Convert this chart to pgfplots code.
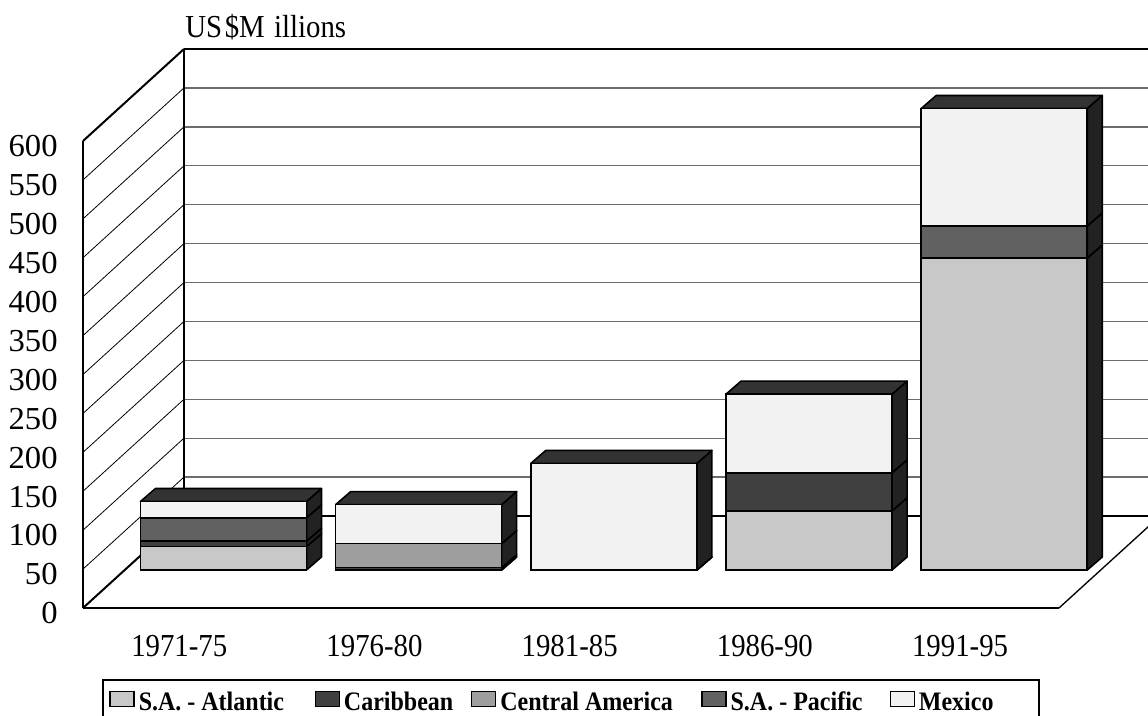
\documentclass[border=0pt]{standalone}
\usepackage{fontspec}
\setmainfont[FakeStretch=0.9]{Liberation Serif}
\newfontfamily\widefont[FakeStretch=1.02]{Liberation Serif}
\usepackage{pgfplots}
\usepackage{pgfplotstable}
\pgfplotsset{compat=1.18}

\definecolor{atl}{HTML}{C8C8C8}
\definecolor{car}{HTML}{404040}
\definecolor{cam}{HTML}{9E9E9E}
\definecolor{pac}{HTML}{616161}
\definecolor{mex}{HTML}{F2F2F2}
\definecolor{barside}{HTML}{222222}
\definecolor{bartop}{HTML}{333333}

% US$ millions by period
\pgfplotstableread{
cat atl car ca pac mex
0   30  7   0  30  21
1   0   3   31 0   50
2   0   0   0  0   137
3   76  49  0  0   101
4   401 0   0  41  151
}\data

% 1 px of the reference = 0.75pt
\pgfplotsset{
  geom/.style={scale only axis,width=732pt,height=350.25pt,anchor=south west,
    xmin=-0.5,xmax=4.5,ymin=0,ymax=600,clip=false},
  swatch/.style={legend image code/.code={\draw[##1,line width=1pt] (0pt,-5.6pt) rectangle (18pt,5.6pt);}},
}
\def\halfw{0.4252}
\def\depx{0.0768}
\def\depy{16.7}

% right side and top of one stacked bar, from the table
\newcommand\depthfaces[1]{%
  \pgfmathsetmacro\xa{#1+\halfw}%
  \pgfmathsetmacro\xb{\xa+\depx}%
  \pgfmathsetmacro\xl{#1-\halfw}%
  \pgfmathsetmacro\xm{\xl+\depx}%
  \def\cum{0}%
  \pgfplotsforeachungrouped \col in {atl,car,ca,pac,mex}{%
    \pgfplotstablegetelem{#1}{\col}\of\data
    \pgfmathsetmacro\cumnew{\cum+\pgfplotsretval}%
    \pgfmathsetmacro\loback{\cum+\depy}%
    \pgfmathsetmacro\hiback{\cumnew+\depy}%
    \addplot[fill=barside,draw=black,line width=1.2pt,line join=round] coordinates {(\xa,\cum)(\xb,\loback)(\xb,\hiback)(\xa,\cumnew)} --cycle;
    \let\cum\cumnew
  }%
  \addplot[fill=bartop,draw=black,line width=1.2pt,line join=round] coordinates {(\xl,\cum)(\xa,\cum)(\xb,\hiback)(\xm,\hiback)} --cycle;
}

\begin{document}
\begin{tikzpicture}
\useasboundingbox (0,0) rectangle (861pt,536.25pt);

% back wall
\begin{axis}[geom,at={(138pt,149.25pt)},
    axis x line*=bottom,axis y line*=left,axis line style={-,black,line width=1.5pt},
    xtick=\empty,ytick={50,100,...,550},yticklabel=\empty,major tick length=0pt,
    ymajorgrids,grid style={gray!85!black,line width=1pt}]
  \addplot[black,line width=1.5pt] coordinates {(-0.5,600)(4.5,600)};
\end{axis}

% front axis, side wall and floor
\begin{axis}[geom,at={(62.25pt,80.25pt)},
    axis x line*=bottom,axis y line*=left,axis line style={-,black,line width=1.5pt},
    major tick length=0pt,
    xtick={0,1,2,3,4},xticklabels={1971-75,1976-80,1981-85,1986-90,1991-95},
    ytick={0,50,...,600},
    /pgf/number format/assume math mode=true,
    tick label style={font=\fontsize{24}{24}\selectfont},
    xticklabel style={yshift=-17pt,xshift=-1pt},
    yticklabel style={anchor=east,xshift=-15.5pt,yshift=-4pt,font=\fontsize{24}{24}\widefont}]
  \pgfplotsinvokeforeach{50,100,...,550}{
    \pgfmathsetmacro\yb{#1+118.2}
    \addplot[black,line width=0.6pt] coordinates {(-0.5,#1)(0.0174,\yb)};
  }
  \addplot[black,line width=1.5pt] coordinates {(-0.5,0)(0.0174,118.2)};
  \addplot[black,line width=1.5pt] coordinates {(-0.5,600)(0.0174,718.2)};
  \addplot[black,line width=1pt] coordinates {(4.5,0)(5.0174,118.2)};
\end{axis}

% sides and tops of the bars
\begin{axis}[geom,at={(94.4pt,108.75pt)},hide axis]
  \pgfplotsinvokeforeach{0,...,4}{\depthfaces{#1}}
\end{axis}

% front faces of the bars
\begin{axis}[geom,at={(94.4pt,108.75pt)},hide axis,
    ybar stacked,bar width=124.5pt,
    legend style={at={(-0.0245,-0.2340)},anchor=north west,draw=black,line width=1.2pt,
      legend columns=5,inner xsep=5pt,inner ysep=8pt,
      font=\fontsize{20}{24}\selectfont\bfseries,
      nodes={inner sep=0pt},
      /tikz/every odd column/.append style={column sep=3pt}},
    legend cell align=left]
  \addplot[fill=atl,draw=black,line width=1.2pt,swatch] table[x=cat,y=atl] {\data};
  \addplot[fill=car,draw=black,line width=1.2pt,swatch] table[x=cat,y=car] {\data};
  \addplot[fill=cam,draw=black,line width=1.2pt,swatch] table[x=cat,y=ca] {\data};
  \addplot[fill=pac,draw=black,line width=1.2pt,swatch] table[x=cat,y=pac] {\data};
  \addplot[fill=mex,draw=black,line width=1.2pt,swatch] table[x=cat,y=mex] {\data};
  \addlegendentry{\makebox[131.9pt][l]{\raisebox{-5.5pt}{S.A. - Atlantic}}}
  \addlegendentry{\makebox[95.3pt][l]{\raisebox{-5.5pt}{Caribbean}}}
  \addlegendentry{\makebox[150.7pt][l]{\raisebox{-5.5pt}{Central America}}}
  \addlegendentry{\makebox[119.2pt][l]{\raisebox{-5.5pt}{S.A. - Pacific}}}
  \addlegendentry{\makebox[85pt][l]{\raisebox{-5.5pt}{Mexico}}}
\end{axis}

\node[anchor=base west,inner sep=0pt,font=\fontsize{24}{24}\selectfont] at (138.8pt,508pt) {US\kern2pt\$M\kern7pt illions};
\end{tikzpicture}
\end{document}
